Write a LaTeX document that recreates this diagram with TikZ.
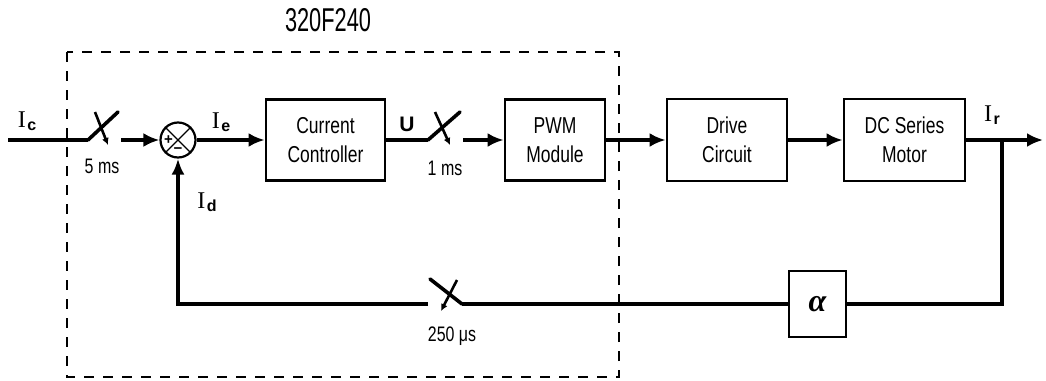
\documentclass[tikz,border=0pt]{standalone}
\usepackage{fontspec}
\setmainfont{Liberation Sans}
\newfontfamily\narrowsf[FakeStretch=0.76]{Liberation Sans}
\newfontfamily\titlesf[FakeStretch=0.66]{Liberation Sans}
\newfontfamily\serifI{Liberation Serif}
\usetikzlibrary{arrows.meta}
\newcommand{\sigI}[1]{{\serifI\fontsize{24}{24}\selectfont I}\kern1.5pt\raisebox{-3pt}{\fontsize{16}{16}\selectfont\bfseries #1}}
\begin{document}
\begin{tikzpicture}[x=1pt,y=-1pt,
  blk/.style={draw, line width=2.8pt, align=center, font=\narrowsf\fontsize{23}{29}\selectfont, inner sep=0pt},
  sig/.style={line width=4.2pt, -{Latex[length=16pt,width=14pt]}},
  wire/.style={line width=4.2pt},
  fb/.style={line width=3.4pt},
  blade/.style={line width=3.6pt, line cap=round},
  tick/.style={line width=2.6pt, -{Latex[length=7pt,width=7pt]}},
  lbl/.style={font=\narrowsf\fontsize{21}{21}\selectfont, inner sep=0pt},
  sym/.style={inner sep=0pt}
]
\fill[white] (0,0) rectangle (1046,380);
\useasboundingbox (0,0) rectangle (1046,380);

% dashed processor boundary
\draw[line width=2.8pt, dash pattern=on 10pt off 9pt] (67,52) rectangle (619,377);
\node[font=\titlesf\fontsize{33}{33}\selectfont, inner sep=0pt] (title) at (328,20) {320F240};

% blocks
\node[blk, minimum width=119pt, minimum height=81pt] (cc) at (325.5,140) {Current\\Controller};
\node[blk, minimum width=100pt, minimum height=81pt] (pwm) at (555,140) {PWM\\Module};
\node[blk, minimum width=120pt, minimum height=82pt] (drv) at (727,140) {Drive\\Circuit};
\node[blk, minimum width=121pt, minimum height=82pt] (dc) at (904.5,140) {DC Series\\Motor};
\node[blk, minimum width=57pt, minimum height=66pt, font=\serifI\bfseries\itshape\fontsize{32}{32}\selectfont] (al) at (817.5,304) {α};

% summing junction
\node[draw, circle, minimum size=35pt, inner sep=0pt, line width=2.2pt] (sum) at (178,140) {};
\draw[line width=1.4pt] (sum.north west) -- (sum.south east);
\draw[line width=1.4pt] (sum.north east) -- (sum.south west);
\node[sym, font=\bfseries\fontsize{15}{15}\selectfont] (plus) at (168.5,140) {+};
\node[sym, font=\bfseries\fontsize{15}{15}\selectfont] (minus) at (178,151) {\textminus};

% coordinates
\coordinate (in) at (8,140);
\coordinate (s1h) at (88,140);
\coordinate (s1t) at (118,112);
\coordinate (s1a) at (95,112);
\coordinate (s1b) at (108,145);
\coordinate (s1o) at (121,140);
\coordinate (s2h) at (428,140);
\coordinate (s2t) at (460,112);
\coordinate (s2a) at (435,112);
\coordinate (s2b) at (450,145);
\coordinate (s2o) at (463,140);
\coordinate (out) at (1043,140);
\coordinate (br) at (1002,140);
\coordinate (fbr) at (1002,304);
\coordinate (s3h) at (462,304);
\coordinate (s3t) at (430,279);
\coordinate (s3a) at (457,280);
\coordinate (s3b) at (441,311);
\coordinate (s3l) at (428,304);
\coordinate (fbl) at (178,304);

% forward path
\draw[wire] (in) -- (s1h);
\draw[blade] (s1h) -- (s1t);
\draw[tick] (s1a) -- (s1b);
\draw[sig] (s1o) -- (sum.west);
\draw[sig] (sum.east) -- (cc.west);
\draw[wire] (cc.east) -- (s2h);
\draw[blade] (s2h) -- (s2t);
\draw[tick] (s2a) -- (s2b);
\draw[sig] (s2o) -- (pwm.west);
\draw[sig] (pwm.east) -- (drv.west);
\draw[sig] (drv.east) -- (dc.west);
\draw[sig] (dc.east) -- (out);

% feedback path
\draw[fb] (br) -- (fbr) -- (al.east);
\draw[fb] (al.west) -- (s3h);
\draw[blade] (s3h) -- (s3t);
\draw[tick] (s3a) -- (s3b);
\draw[fb, -{Latex[length=16pt,width=13pt]}] (s3l) -- (fbl) -- (sum.south);

% labels
\node[sym] (lic) at (27,121) {\sigI{c}};
\node[sym] (lie) at (221,122) {\sigI{e}};
\node[sym] (lid) at (207,202) {\sigI{d}};
\node[sym] (lir) at (992,115) {\sigI{r}};
\node[sym, font=\bfseries\fontsize{21}{21}\selectfont] (lu) at (407,124) {U};
\node[lbl] (t5) at (102,166) {5 ms};
\node[lbl] (t1) at (445,168) {1 ms};
\node[lbl] (t250) at (452,336) {250 μs};
\end{tikzpicture}
\end{document}
